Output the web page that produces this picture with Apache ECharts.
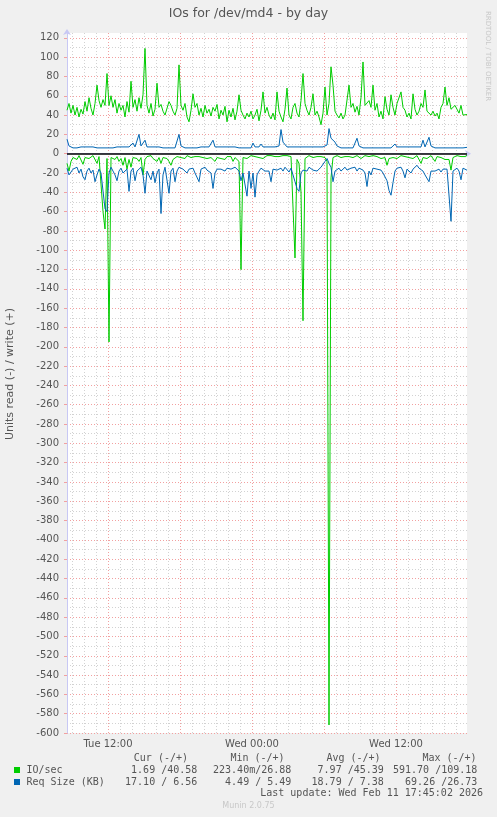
<!DOCTYPE html>
<html><head><meta charset="utf-8">
<script src="https://cdn.jsdelivr.net/npm/echarts@6/dist/echarts.min.js"></script>
<style>html,body{margin:0;padding:0;background:#f0f0f0;}#c{width:497px;height:817px;}</style>
</head><body><div id="c"></div>
<script>
// ---- time axis: 5-minute slots from Tue 08:35 to Wed 17:55 ----
const startMinute = 515;      // Tue 08:35
const slotMinutes = 5;
const slotCount = 400;
const sampleStep = 2;         // slots between samples below

// ---- IO/sec, write (+) ----
const ioWrite = [
45,52,42,50,40,48,38,46,41,54,
44,58,47,40,52,71,55,48,56,50,
83,50,60,48,56,42,52,45,50,38,
54,43,75,48,56,44,58,47,61,109,
50,42,52,39,46,73,48,51,44,40,
41,54,50,44,40,47,92,50,45,52,
38,33,45,62,48,52,40,47,38,50,
42,46,39,48,44,51,36,45,40,49,
33,45,38,47,35,44,61,45,40,36,
42,38,44,36,40,46,34,45,64,42,
48,40,36,42,35,64,44,38,33,46,
68,40,36,48,52,42,38,55,83,52,
45,40,48,62,40,44,38,30,42,69,
40,52,90,71,44,40,37,42,36,40,
38,71,48,52,43,49,40,58,95,50,
52,55,48,71,45,52,38,44,36,59,
46,40,61,48,40,52,54,64,48,45,
38,42,36,62,46,40,44,52,48,66,
44,42,40,44,39,42,36,48,52,69,
50,58,46,44,50,48,42,50,40,41,
40.58];

// ---- IO/sec, read (-) (magnitudes) ----
const ioRead = [
10,18,8,4,3,6,2,3,11,4,
3,5,3,2,4,10,3,4,60,78,
5,195,4,3,6,3,8,5,12,4,
16,6,14,4,3,5,8,4,22,6,
3,4,2,5,3,8,4,10,4,3,
5,8,12,6,4,3,2,4,3,5,
2,3,4,2,3,5,3,2,4,3,
5,3,4,3,8,4,3,5,3,6,
3,4,3,8,4,6,8,120,4,3,
5,3,2,4,3,2,4,3,5,3,
2,3,2,4,3,2,3,4,2,3,
2,4,3,5,108,6,10,40,173,5,
3,2,3,4,2,3,5,3,2,4,
8,591.7,25,4,3,2,3,4,2,3,
5,3,2,4,3,2,3,5,3,2,
4,3,3,2,4,3,2,5,3,4,
12,5,3,4,3,5,3,2,4,3,
2,4,3,5,3,2,4,10,4,3,
5,3,2,4,8,3,2,4,3,6,
8,6,17,4,3,2,4,3,2,3,
1.69];

// ---- Req Size (KB), write (+) ----
const reqWrite = [
15,8,7,6,7,6,7,7,6,7,
6,7,6,7,7,6,7,6,7,6,
7,6,7,6,7,7,6,7,6,7,
6,7,8,11,7,6,20,8,7,14,
7,6,7,6,7,9,7,9,6,7,
6,7,6,7,6,7,20,8,7,6,
7,6,7,6,7,6,7,7,6,7,
6,7,7,14,7,6,7,6,7,6,
7,6,7,6,7,7,6,7,6,7,
6,7,6,11,7,6,7,10,7,6,
7,6,7,6,7,6,8,25,12,10,
7,6,7,6,7,6,7,6,7,6,
7,6,7,6,7,6,7,6,7,8,
9,26,16,15,12,8,7,6,7,6,
7,6,7,6,7,16,8,7,6,7,
6,7,6,7,6,7,6,7,6,7,
6,7,6,7,10,7,6,7,6,7,
6,7,6,7,6,7,6,7,14,7,
6,17,8,7,6,7,6,7,6,7,
6,7,6,7,6,7,6,7,6,7,
6.56];

// ---- Req Size (KB), read (-) (magnitudes) ----
const reqRead = [
15,22,20,16,18,14,20,16,24,27,
18,15,20,17,29,22,16,20,18,57,
60,20,14,18,22,28,18,15,20,22,
16,39,18,15,28,18,16,14,22,41,
18,16,27,18,30,20,16,62,22,14,
16,41,18,15,29,18,14,12,16,18,
20,16,18,15,20,18,29,16,18,14,
17,15,20,36,20,16,18,16,14,18,
15,17,16,18,14,16,18,28,20,20,
44,18,36,20,45,22,18,15,14,18,
16,18,29,16,14,17,16,15,18,14,
16,19,15,22,29,36,39,20,17,15,
18,14,16,17,15,18,16,14,12,8,
5,10,14,29,18,16,15,18,16,14,
17,18,15,16,14,18,15,16,17,20,
34,18,22,15,14,16,18,17,20,18,
28,38,43,30,18,15,16,14,18,25,
16,18,20,16,14,12,15,16,18,22,
20,29,18,16,18,17,16,19,16,18,
16,17,70,18,16,15,18,27,15,17,
17.1];

// ---- texts ----
const titleText = 'IOs for /dev/md4 - by day';
const yAxisTitle = 'Units read (-) / write (+)';
const seriesNames = ['IO/sec', 'Req Size (KB)'];
const legendHeader = ['Cur (-/+)', 'Min (-/+)', 'Avg (-/+)', 'Max (-/+)'];
const ioStats = ['1.69 /40.58', '223.40m/26.88', '7.97 /45.39', '591.70 /109.18'];
const reqStats = ['17.10 / 6.56', '4.49 / 5.49', '18.79 / 7.38', '69.26 /26.73'];
const lastUpdate = 'Last update: Wed Feb 11 17:45:02 2026';
const muninVersion = 'Munin 2.0.75';
const rrdCredit = 'RRDTOOL / TOBI OETIKER';
const yMin = -600, yMax = 125;

// ---- build categories (5-min slots) ----
const categories = [];
for (let k = 0; k <= slotCount; k++) {
  const t = startMinute + k * slotMinutes;
  const day = t < 1440 ? 'Tue' : 'Wed';
  const m = t % 1440;
  categories.push(day + ' ' + String(Math.floor(m / 60)).padStart(2, '0') + ':' + String(m % 60).padStart(2, '0'));
}
const hourOf = v => parseInt(v.slice(4, 6), 10);
const isHour = v => v.endsWith(':00');

const GREEN = '#00cc00', BLUE = '#0066b3';
const FONT = 'DejaVu Sans', MONO = 'DejaVu Sans Mono';
const TXT = '#555';

const toPts = (arr, sign) => arr.map((v, i) => [i * sampleStep, sign * v]);

function lineSeries(name, data, color, extra) {
  return Object.assign({
    name, type: 'line', xAxisIndex: 2, yAxisIndex: 1, data,
    symbol: 'none', showSymbol: false, lineStyle: { color, width: 1 },
    itemStyle: { color }, animation: false, silent: true
  }, extra || {});
}

const chart = echarts.init(document.getElementById('c'), null, { renderer: 'canvas' });

const legendRight = [197.3, 291.3, 383.8, 477.3];
const headerRight = [188, 284.6, 380.6, 476.6];
const graphics = [];
legendHeader.forEach((t, i) => graphics.push({ type: 'text', x: headerRight[i], y: 758, style: { text: t, textAlign: 'right', textVerticalAlign: 'middle', font: '10px "' + MONO + '"', fill: TXT } }));
ioStats.forEach((t, i) => graphics.push({ type: 'text', x: legendRight[i], y: 770, style: { text: t, textAlign: 'right', textVerticalAlign: 'middle', font: '10px "' + MONO + '"', fill: TXT } }));
reqStats.forEach((t, i) => graphics.push({ type: 'text', x: legendRight[i], y: 782, style: { text: t, textAlign: 'right', textVerticalAlign: 'middle', font: '10px "' + MONO + '"', fill: TXT } }));
graphics.push({ type: 'rect', shape: { x: 14, y: 767, width: 6, height: 6 }, style: { fill: GREEN } });
graphics.push({ type: 'rect', shape: { x: 14, y: 779, width: 6, height: 6 }, style: { fill: BLUE } });
graphics.push({ type: 'text', x: 26.5, y: 770, style: { text: seriesNames[0], textAlign: 'left', textVerticalAlign: 'middle', font: '10px "' + MONO + '"', fill: TXT } });
graphics.push({ type: 'text', x: 26.5, y: 782, style: { text: seriesNames[1], textAlign: 'left', textVerticalAlign: 'middle', font: '10px "' + MONO + '"', fill: TXT } });
graphics.push({ type: 'text', x: 483, y: 793.5, style: { text: lastUpdate, textAlign: 'right', textVerticalAlign: 'middle', font: '10px "' + MONO + '"', fill: TXT } });
graphics.push({ type: 'text', x: 248.5, y: 806, style: { text: muninVersion, textAlign: 'center', textVerticalAlign: 'middle', font: '8px "' + FONT + '"', fill: '#c8c8c8' } });
graphics.push({ type: 'text', x: 488, y: 56, rotation: -Math.PI / 2, style: { text: rrdCredit, textAlign: 'center', textVerticalAlign: 'middle', font: '7px "' + FONT + '"', fill: '#c8c8c8' } });
graphics.push({ type: 'text', x: 10, y: 374, rotation: Math.PI / 2, style: { text: yAxisTitle, textAlign: 'center', textVerticalAlign: 'middle', font: '11px "' + FONT + '"', fill: TXT } });

const AXIS_COL = '#c8c8f4';
const GRID_COL = '#d2d2d2';
const MGRID_COL = '#f2a0a0';

chart.setOption({
  backgroundColor: '#f0f0f0',
  animation: false,
  title: { text: titleText, left: 'center', top: 2, textStyle: { fontFamily: FONT, fontSize: 12.5, fontWeight: 'normal', color: TXT } },
  grid: { left: 67, right: 30, top: 33, bottom: 84, show: true, backgroundColor: '#ffffff', borderWidth: 0 },
  xAxis: [
    { type: 'category', data: categories, boundaryGap: false, position: 'bottom',
      axisLine: { show: true, lineStyle: { color: AXIS_COL, width: 1 }, symbol: ['none', 'arrow'], symbolSize: [6, 6], symbolOffset: [0, 4] },
      axisTick: { show: false },
      axisLabel: { interval: (i, v) => v.endsWith('12:00') || v.endsWith('00:00'), fontFamily: FONT, fontSize: 10, color: TXT, margin: 6 },
      splitLine: { show: true, interval: (i, v) => isHour(v) && hourOf(v) % 6 !== 0, lineStyle: { color: GRID_COL, type: [1, 2], width: 1 } }
    },
    { type: 'category', data: categories, boundaryGap: false, position: 'bottom',
      axisLine: { show: false }, axisTick: { show: false }, axisLabel: { show: false },
      splitLine: { show: true, interval: (i, v) => isHour(v) && hourOf(v) % 6 === 0, lineStyle: { color: MGRID_COL, type: [1, 2], width: 1 } }
    },
    { type: 'value', min: 0, max: slotCount, show: false, splitLine: { show: false } }
  ],
  yAxis: [
    { type: 'value', min: yMin, max: yMax, interval: 10, position: 'left',
      axisLine: { show: false }, axisTick: { show: false }, axisLabel: { show: false },
      splitLine: { show: true, showMaxLine: false, lineStyle: { color: GRID_COL, type: [1, 2], width: 1 } }
    },
    { type: 'value', min: yMin, max: yMax, interval: 20, position: 'left',
      axisLine: { show: true, lineStyle: { color: AXIS_COL, width: 1 }, symbol: ['none', 'arrow'], symbolSize: [6, 6], symbolOffset: [0, 4] },
      axisTick: { show: true, length: 3, lineStyle: { color: MGRID_COL, width: 1 } },
      axisLabel: { formatter: v => (v === yMax ? '' : String(v)), fontFamily: FONT, fontSize: 10, color: TXT, margin: 8, showMaxLabel: false },
      splitLine: { show: true, showMaxLine: false, lineStyle: { color: MGRID_COL, type: [1, 2], width: 1 } }
    }
  ],
  series: [
    lineSeries(seriesNames[0] + ' read', toPts(ioRead, -1), GREEN),
    lineSeries(seriesNames[0] + ' write', toPts(ioWrite, 1), GREEN),
    lineSeries(seriesNames[1] + ' read', toPts(reqRead, -1), BLUE),
    lineSeries(seriesNames[1] + ' write', toPts(reqWrite, 1), BLUE, {
      markLine: { silent: true, symbol: 'none', animation: false, label: { show: false },
        lineStyle: { color: '#000', width: 1.5, type: 'solid' }, data: [{ yAxis: 0 }] }
    })
  ],
  graphic: graphics
});
</script></body></html>
